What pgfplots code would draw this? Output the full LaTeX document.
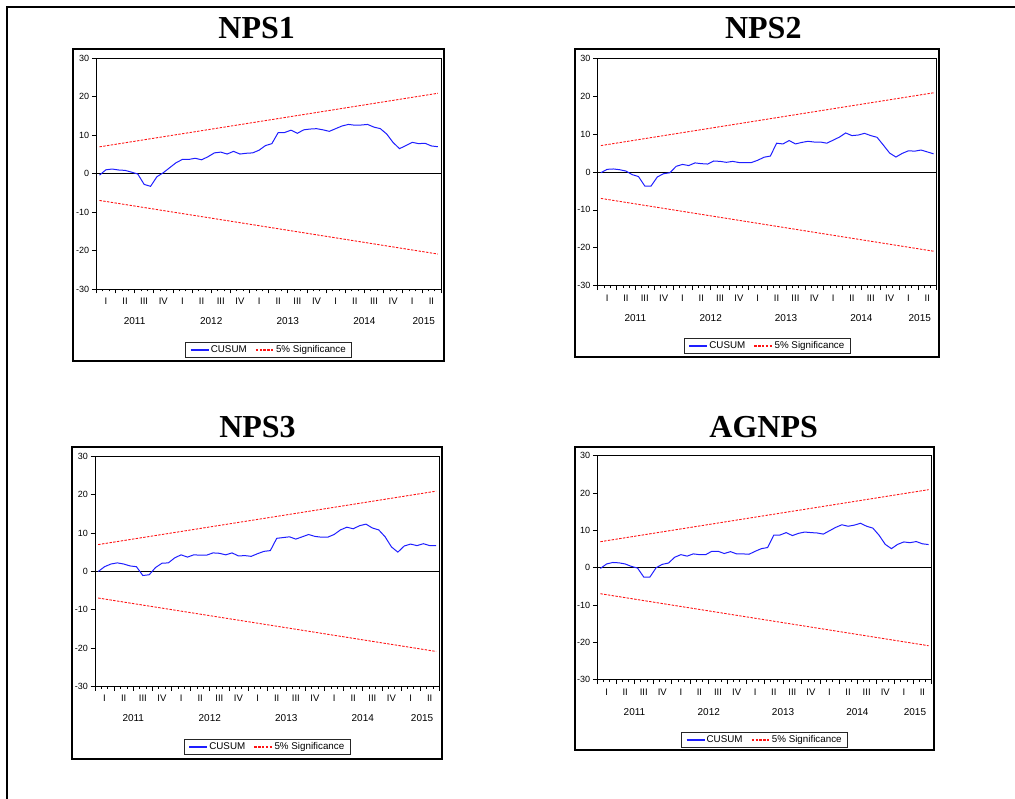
\documentclass[border=0pt]{standalone}
\usepackage{fontspec}
\setmainfont{Liberation Sans}
\newfontfamily\titlefont{Liberation Serif}
\usepackage{pgfplots}
\usepackage{pgfplotstable}
\pgfplotsset{compat=1.18}

\definecolor{cusumblue}{RGB}{30,30,255}
\definecolor{sigred}{RGB}{255,20,20}

\pgfplotstableread{
x y
0 -0.4
1 1.0
2 1.2
3 0.95
4 0.85
5 0.4
6 -0.1
7 -2.8
8 -3.3
9 -0.8
10 0.25
11 1.55
12 2.85
13 3.7
14 3.7
15 4.0
16 3.6
17 4.4
18 5.4
19 5.6
20 5.1
21 5.8
22 5.1
23 5.3
24 5.4
25 6.1
26 7.3
27 7.8
28 10.7
29 10.7
30 11.3
31 10.5
32 11.4
33 11.6
34 11.7
35 11.4
36 11.0
37 11.7
38 12.4
39 12.8
40 12.6
41 12.65
42 12.8
43 12.1
44 11.7
45 10.3
46 8.1
47 6.5
48 7.3
49 8.15
50 7.8
51 7.9
52 7.2
53 7.0
}\npsone

\pgfplotstableread{
x y
0 -0.2
1 0.7
2 0.8
3 0.6
4 0.25
5 -0.7
6 -1.2
7 -3.7
8 -3.7
9 -1.3
10 -0.45
11 -0.2
12 1.5
13 2.0
14 1.7
15 2.4
16 2.2
17 2.1
18 2.9
19 2.8
20 2.55
21 2.8
22 2.5
23 2.5
24 2.5
25 3.1
26 3.9
27 4.2
28 7.6
29 7.4
30 8.3
31 7.4
32 7.8
33 8.1
34 7.9
35 7.9
36 7.6
37 8.4
38 9.2
39 10.3
40 9.6
41 9.75
42 10.2
43 9.6
44 9.15
45 7.1
46 5.0
47 3.95
48 4.9
49 5.6
50 5.5
51 5.8
52 5.3
53 4.8
}\npstwo

\pgfplotstableread{
x y
0 -0.05
1 1.2
2 1.9
3 2.2
4 1.9
5 1.4
6 1.2
7 -1.1
8 -0.9
9 1.0
10 2.1
11 2.2
12 3.5
13 4.3
14 3.7
15 4.3
16 4.2
17 4.2
18 4.8
19 4.7
20 4.3
21 4.8
22 4.0
23 4.1
24 3.9
25 4.6
26 5.2
27 5.4
28 8.6
29 8.8
30 9.0
31 8.4
32 9.0
33 9.6
34 9.1
35 8.9
36 8.9
37 9.6
38 10.8
39 11.5
40 11.1
41 11.9
42 12.3
43 11.3
44 10.8
45 9.0
46 6.35
47 5.0
48 6.6
49 7.1
50 6.7
51 7.2
52 6.7
53 6.7
}\npsthree

\pgfplotstableread{
x y
0 -0.2
1 1.0
2 1.4
3 1.3
4 1.0
5 0.35
6 -0.1
7 -2.5
8 -2.5
9 0.0
10 0.9
11 1.25
12 2.8
13 3.5
14 3.1
15 3.7
16 3.5
17 3.5
18 4.4
19 4.4
20 3.8
21 4.3
22 3.7
23 3.7
24 3.6
25 4.4
26 5.1
27 5.4
28 8.75
29 8.75
30 9.4
31 8.6
32 9.2
33 9.55
34 9.4
35 9.3
36 9.0
37 9.9
38 10.8
39 11.5
40 11.1
41 11.4
42 11.9
43 11.1
44 10.6
45 8.7
46 6.25
47 5.1
48 6.25
49 6.9
50 6.7
51 7.0
52 6.4
53 6.2
}\agnps

\pgfplotstableread{
x upper lower
0 6.97 -6.97
53 20.90 -20.90
}\siglines

\pgfplotsset{
  cusum/.style={
    scale only axis,
    anchor=north west,
    clip mode=individual,
    xmin=-0.5, xmax=53.5, ymin=-30, ymax=30,
    axis line style={black, line width=0.8pt},
    tick align=outside,
    tick pos=left,
    major tick length=4.5pt, minor tick length=2.5pt,
    tick style={black, line width=0.6pt},
    ytick={-30,-20,-10,0,10,20,30},
    yticklabels={-30,-20,-10,0,10,20,30},
    yticklabel style={font=\fontsize{9}{9}\selectfont, inner sep=0pt, anchor=east, xshift=-2.5pt},
    xtick={-0.5,2.5,...,53.5},
    xticklabels={},
    minor xtick={0.5,1.5,...,52.5},
    extra x ticks={1,4,...,52},
    extra x tick labels={I,II,III,IV,I,II,III,IV,I,II,III,IV,I,II,III,IV,I,II},
    extra x tick style={major tick length=0pt, tick style={draw=none},
      xticklabel style={font=\fontsize{9.5}{9.5}\selectfont, inner sep=0pt, anchor=base, yshift=-15.4pt}},
    legend columns=2,
    legend style={at={(0.5,0)}, anchor=north,
      draw=black!85, line width=0.6pt,
      font=\fontsize{9.8}{10}\selectfont,
      inner xsep=4.5pt, inner ysep=1.6pt,
      nodes={inner sep=1.5pt},
      /tikz/every even column/.append style={column sep=7pt}},
  },
  cusumline/.style={cusumblue, line width=1pt,
    legend image code/.code={\draw[draw=cusumblue, line width=1.3pt, solid] (0pt,0pt) -- (18pt,0pt);}},
  sigline/.style={sigred, line width=0.9pt, dash pattern=on 2.4pt off 1.4pt,
    legend image code/.code={\draw[draw=sigred, line width=1.3pt, dash pattern=on 2.4pt off 1.4pt] (0pt,0pt) -- (18pt,0pt);}},
}

\newcommand{\yearlabels}{%
  \node[anchor=base, font=\fontsize{10}{10}\selectfont, yshift=-35.6pt] at (axis cs:5.5,-30) {2011};
  \node[anchor=base, font=\fontsize{10}{10}\selectfont, yshift=-35.6pt] at (axis cs:17.5,-30) {2012};
  \node[anchor=base, font=\fontsize{10}{10}\selectfont, yshift=-35.6pt] at (axis cs:29.5,-30) {2013};
  \node[anchor=base, font=\fontsize{10}{10}\selectfont, yshift=-35.6pt] at (axis cs:41.5,-30) {2014};
  \node[anchor=base, font=\fontsize{10}{10}\selectfont, yshift=-35.6pt] at (axis cs:50.8,-30) {2015};
}

\newcommand{\panelplots}[1]{%
  \addplot[black, line width=0.8pt, forget plot] coordinates {(-0.5,0) (53.5,0)};
  \addplot[cusumline] table[x=x, y=y] {#1};
  \addlegendentry{CUSUM}
  \addplot[sigline] table[x=x, y=upper] {\siglines};
  \addlegendentry{5\% Significance}
  \addplot[sigline, forget plot] table[x=x, y=lower] {\siglines};
  \yearlabels
}

\begin{document}
\begin{tikzpicture}
\useasboundingbox (0,0) rectangle (1015pt,-799pt);
\draw[line width=2pt] (7pt,-810pt) -- (7pt,-7pt) -- (1025pt,-7pt);

% titles
\node[anchor=base, font=\titlefont\bfseries\fontsize{32}{32}\selectfont] at (256.7pt,-38.3pt) {NPS1};
\node[anchor=base, font=\titlefont\bfseries\fontsize{32}{32}\selectfont] at (763.3pt,-38.3pt) {NPS2};
\node[anchor=base, font=\titlefont\bfseries\fontsize{32}{32}\selectfont] at (257.5pt,-437.7pt) {NPS3};
\node[anchor=base, font=\titlefont\bfseries\fontsize{32}{32}\selectfont] at (763.7pt,-437.7pt) {AGNPS};

% frames
\draw[line width=2.2pt] (73.3pt,-49.3pt) rectangle (444pt,-361pt);
\draw[line width=2.2pt] (575.3pt,-49.3pt) rectangle (939.3pt,-357.3pt);
\draw[line width=2.2pt] (72.3pt,-447pt) rectangle (442pt,-759pt);
\draw[line width=2.2pt] (575.3pt,-447pt) rectangle (934pt,-750pt);

\begin{axis}[cusum, at={(96.3pt,-58.3pt)}, width=344.7pt, height=230.7pt,
  legend style={yshift=-53.3pt}]
\panelplots{\npsone}
\end{axis}

\begin{axis}[cusum, at={(597.7pt,-58.3pt)}, width=339pt, height=227.4pt,
  legend style={yshift=-52.6pt}]
\panelplots{\npstwo}
\end{axis}

\begin{axis}[cusum, at={(95pt,-456.3pt)}, width=344.3pt, height=230pt,
  legend style={yshift=-53.0pt}]
\panelplots{\npsthree}
\end{axis}

\begin{axis}[cusum, at={(597.3pt,-455.7pt)}, width=334.4pt, height=224pt,
  legend style={yshift=-52.6pt}]
\panelplots{\agnps}
\end{axis}
\end{tikzpicture}
\end{document}
